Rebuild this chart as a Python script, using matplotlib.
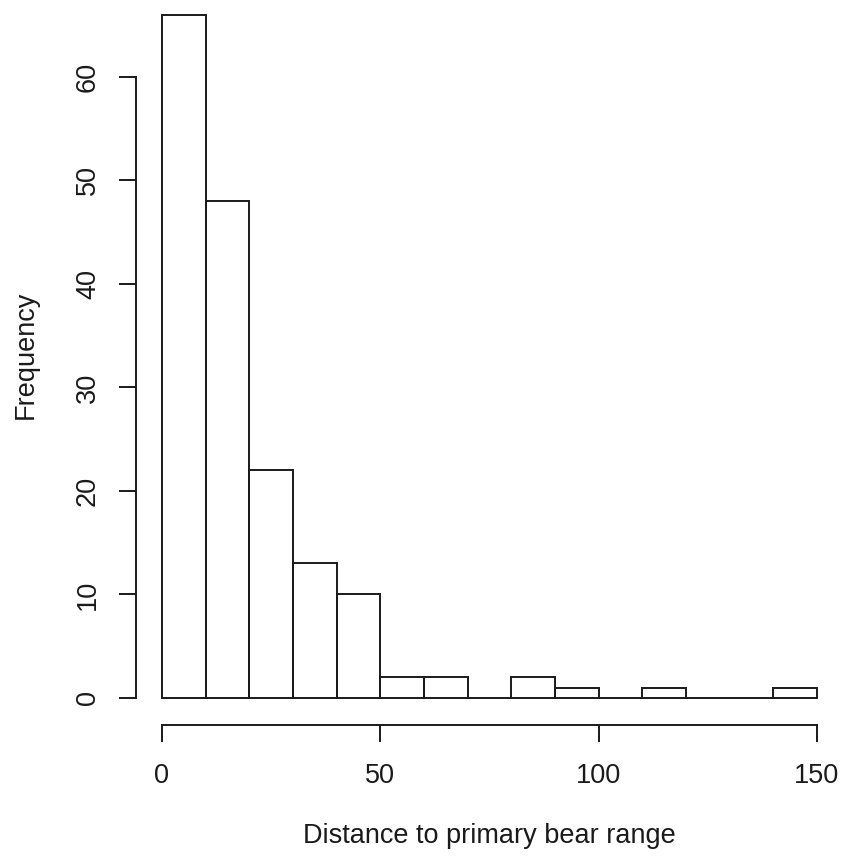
import matplotlib.pyplot as plt
import numpy as np

# histogram of distances, bins of width 10 from 0 to 150
bin_edges = np.arange(0, 160, 10)
counts = [66, 48, 22, 13, 10, 2, 2, 0, 2, 1, 0, 1, 0, 0, 1]
x_ticks = [0, 50, 100, 150]
y_ticks = [0, 10, 20, 30, 40, 50, 60]

plt.rcParams['font.family'] = ['Liberation Sans', 'DejaVu Sans']

fig = plt.figure(figsize=(8.43, 8.57), dpi=100)
ax_left, ax_bottom, ax_w, ax_h = 0.161, 0.1537, 0.839, 0.8608
ax = fig.add_axes([ax_left, ax_bottom, ax_w, ax_h])

ax.bar(bin_edges[:-1], counts, width=10, align='edge', fill=False,
       edgecolor='#1a1a1a', linewidth=1.4)

ax.set_xlim(-6, 156)
ax.set_ylim(-2.64, 68.64)

# R-style detached axes
for side in ('top', 'right'):
    ax.spines[side].set_visible(False)
ax.spines['left'].set_bounds(0, 60)
ax.spines['bottom'].set_bounds(0, 150)
for side in ('left', 'bottom'):
    ax.spines[side].set_linewidth(1.4)
    ax.spines[side].set_color('#1a1a1a')

ax.set_xticks(x_ticks)
ax.set_yticks(y_ticks)
ax.tick_params(axis='both', direction='out', length=12, width=1.4,
               color='#1a1a1a', labelsize=19.5, labelcolor='#1a1a1a')
ax.tick_params(axis='x', pad=15)
ax.tick_params(axis='y', pad=13)
for label in ax.get_yticklabels():
    label.set_rotation(90)
    label.set_verticalalignment('center')

ax.set_xlabel("Distance to primary bear range", fontsize=19.5, color='#1a1a1a')
ax.set_ylabel("Frequency", fontsize=19.5, color='#1a1a1a')
# place axis titles at the pixel spots seen in the reference
ax.xaxis.set_label_coords((489 / 843 - ax_left) / ax_w,
                          ((857 - 836) / 857 - ax_bottom) / ax_h)
ax.yaxis.set_label_coords((26 / 843 - ax_left) / ax_w,
                          ((857 - 355) / 857 - ax_bottom) / ax_h)
ax.xaxis.label.set_verticalalignment('center')
ax.yaxis.label.set_verticalalignment('center')

fig.savefig("out.png", dpi=100)
